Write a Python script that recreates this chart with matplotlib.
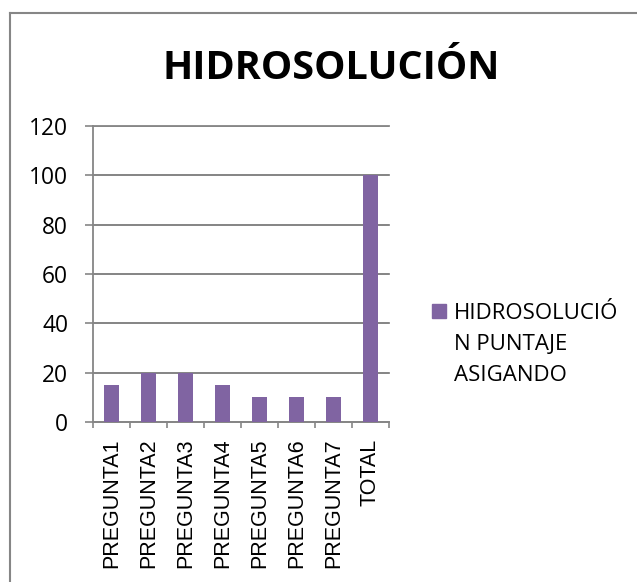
import matplotlib
matplotlib.use("Agg")
import matplotlib.pyplot as plt
from matplotlib.patches import Rectangle
from matplotlib.lines import Line2D
import numpy as np

categories = ["PREGUNTA1", "PREGUNTA2", "PREGUNTA3", "PREGUNTA4",
              "PREGUNTA5", "PREGUNTA6", "PREGUNTA7", "TOTAL"]
puntaje = [15, 20, 20, 15, 10, 10, 10, 100]
y_ticks = [0, 20, 40, 60, 80, 100, 120]

title = "HIDROSOLUCIÓN"
series_label = "HIDROSOLUCIÓ\nN PUNTAJE\nASIGANDO"

BAR_COLOR = "#8064A2"
GRID_COLOR = "#868686"

W, H = 637, 582
fig = plt.figure(figsize=(W / 100, H / 100), dpi=100)


def fx(px):
    return px / W


def fy(py):
    return 1 - py / H


ax = fig.add_axes([fx(93), fy(422), fx(389) - fx(93), fy(126) - fy(422)])

x = np.arange(len(categories))
ax.bar(x, puntaje, width=0.41, color=BAR_COLOR, zorder=3)

ax.set_xlim(-0.5, len(categories) - 0.5)
ax.set_ylim(0, 120)
ax.set_yticks(y_ticks)
ax.set_yticklabels([str(v) for v in y_ticks], fontsize=16.4, family="Open Sans")
ax.tick_params(axis="y", direction="out", length=6, width=1.2,
               color=GRID_COLOR, pad=12)

ax.set_xticks(x)
ax.set_xticklabels(categories, rotation=90, fontsize=15.5,
                   family="Liberation Sans", va="top", ha="center")
ax.tick_params(axis="x", which="major", length=0, pad=12)
ax.set_xticks(np.arange(-0.5, len(categories), 1.0), minor=True)
ax.tick_params(axis="x", which="minor", direction="out", length=4.5,
               width=1.2, color=GRID_COLOR)

ax.grid(axis="y", color=GRID_COLOR, linewidth=1.3, zorder=0)
ax.set_axisbelow(True)
for side in ["top", "right"]:
    ax.spines[side].set_visible(False)
for side in ["left", "bottom"]:
    ax.spines[side].set_color(GRID_COLOR)
    ax.spines[side].set_linewidth(1.3)

# extend gridlines over the outward y ticks like Excel does
for v in y_ticks:
    ax.plot([-0.5, len(categories) - 0.5], [v, v], color=GRID_COLOR,
            linewidth=1.3, zorder=1, clip_on=False)

fig.text(fx(331), fy(79), title, fontsize=28.5, fontweight="bold",
         family="Open Sans", ha="center", va="baseline")

# legend: square marker next to the first line of the wrapped label
fig.patches.append(Rectangle((fx(432), fy(318)), fx(14), fy(304) - fy(318),
                             transform=fig.transFigure, color=BAR_COLOR))
for i, line in enumerate(series_label.split("\n")):
    fig.text(fx(454), fy(319 + 31 * i), line, fontsize=16, family="Open Sans",
             ha="left", va="baseline")

# chart border
fig.add_artist(Line2D([fx(10), fx(10)], [0, fy(13)], color=GRID_COLOR,
                      linewidth=1.5, transform=fig.transFigure))
fig.add_artist(Line2D([fx(10), 1], [fy(13), fy(13)], color=GRID_COLOR,
                      linewidth=1.5, transform=fig.transFigure))

fig.savefig("out.png", dpi=100, facecolor="white")
